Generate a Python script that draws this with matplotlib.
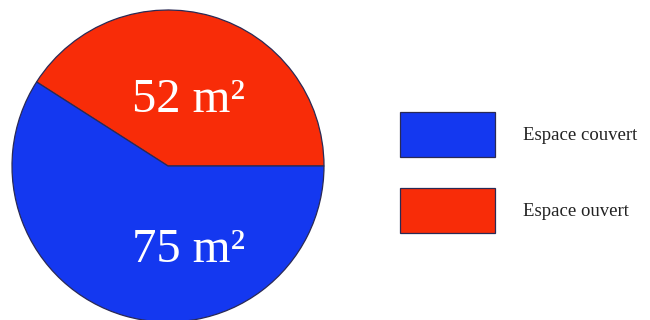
import matplotlib
matplotlib.use("Agg")
import matplotlib.pyplot as plt

labels = ["Espace ouvert", "Espace couvert"]
areas = [52, 75]
colors = ["#F82C08", "#1438F0"]
value_text = ["52 m²", "75 m²"]
text_pos = [(0.13, 0.42), (0.13, -0.54)]

plt.rcParams["font.family"] = ["Liberation Serif", "DejaVu Serif"]

fig = plt.figure(figsize=(6.5, 3.2), dpi=100)
W, H = 650, 320
# pie axes: centre (168,166) px, radius 156 px
ax = fig.add_axes([(168 - 158) / W, (H - 166 - 158) / H, 316 / W, 316 / H])
wedges, _ = ax.pie(areas, colors=colors, startangle=0, counterclock=True,
                   wedgeprops=dict(edgecolor="#2a2a55", linewidth=0.9))
ax.set_xlim(-158 / 156, 158 / 156)
ax.set_ylim(-158 / 156, 158 / 156)
ax.set_aspect("equal")
ax.axis("off")
for t, (x, y) in zip(value_text, text_pos):
    ax.text(x, y, t, color="white", fontsize=35, ha="center", va="center")

# legend, blue first like the reference
order = [1, 0]
fs = 13.5
px = fs * 100 / 72
box_h = 45 * 0.72 / fs  # in font units
hh = (box_h - 0.245) / 0.65
fig.legend([wedges[i] for i in order], [labels[i] for i in order],
           loc="upper left", bbox_to_anchor=(400 / W, 1 - 112 / H),
           frameon=False, fontsize=fs, borderpad=0, borderaxespad=0,
           handlelength=95 / px, handleheight=hh,
           labelspacing=31 / px, handletextpad=28 / px, labelcolor="#222222")

fig.savefig("out.png", dpi=100)
